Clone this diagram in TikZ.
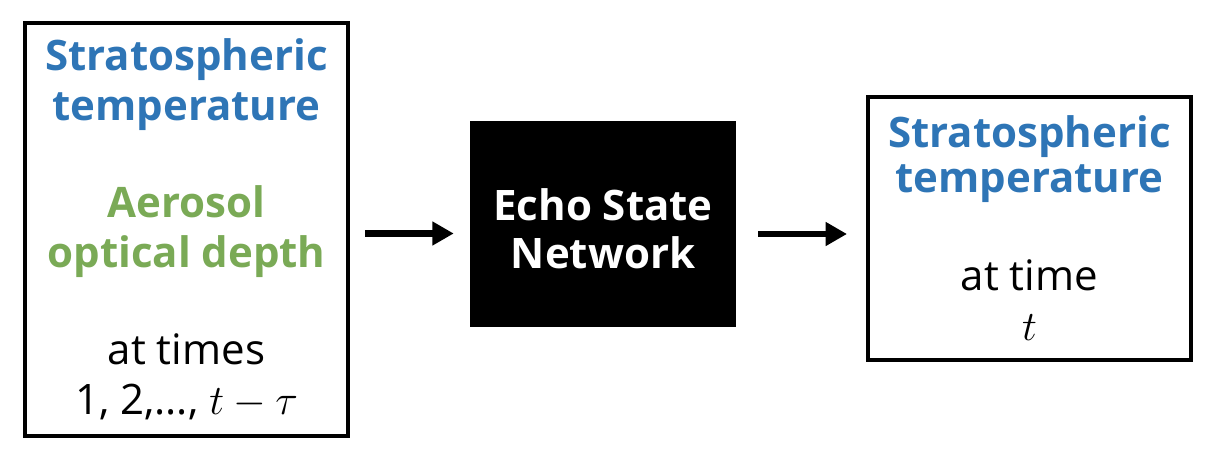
\RequirePackage{fix-cm}
\documentclass[tikz,border=0pt]{standalone}
\usepackage{fontspec}
\setmainfont{Open Sans}
\usepackage{tikz}
\usetikzlibrary{arrows.meta}
\usetikzlibrary{positioning}
\definecolor{tblue}{RGB}{46,117,182}
\definecolor{agreen}{RGB}{122,170,86}
\begin{document}
\begin{tikzpicture}[x=0.75pt, y=-0.75pt, every node/.style={align=center, inner sep=0pt,
font=\fontsize{31.5}{37.5}\selectfont},
box/.style={draw, line width=3pt},
arr/.style={line width=5pt, -{Triangle[length=16pt, width=17pt]}}]
\useasboundingbox (0,0) rectangle (1216,460);
\node[box, minimum width=323*0.75pt, minimum height=413*0.75pt] (lbox) at (186.5,229.5)
{\textcolor{tblue}{\bfseries Stratospheric}\\ \textcolor{tblue}{\bfseries temperature}\\[35.25pt]
\textcolor{agreen}{\bfseries Aerosol}\\ \textcolor{agreen}{\bfseries optical depth}\\[35.25pt]
at times\\ 1, 2,..., $t-\tau$};
\node[fill=black, minimum width=266*0.75pt, minimum height=206*0.75pt] (esn) at (603,224) {};
\node[text=white, font=\fontsize{31.5}{36}\selectfont\bfseries] (esnlabel) at (603,229) {Echo State\\ Network};
\node[box, minimum width=323*0.75pt, minimum height=263*0.75pt] (rbox) at (1029.5,228.5)
{\textcolor{tblue}{\bfseries Stratospheric}\\[-3.75pt] \textcolor{tblue}{\bfseries temperature}\\[36pt]
at time\\ $t$};
\draw[arr, shorten <=11.25pt, shorten >=12pt] ([yshift=-3pt]lbox.east) -- ([yshift=-3pt]lbox.east -| esn.west);
\draw[arr, shorten <=16.5pt, shorten >=14.25pt] ([yshift=-7.5pt]esn.east) -- ([yshift=-7.5pt]esn.east -| rbox.west);
\end{tikzpicture}
\end{document}
